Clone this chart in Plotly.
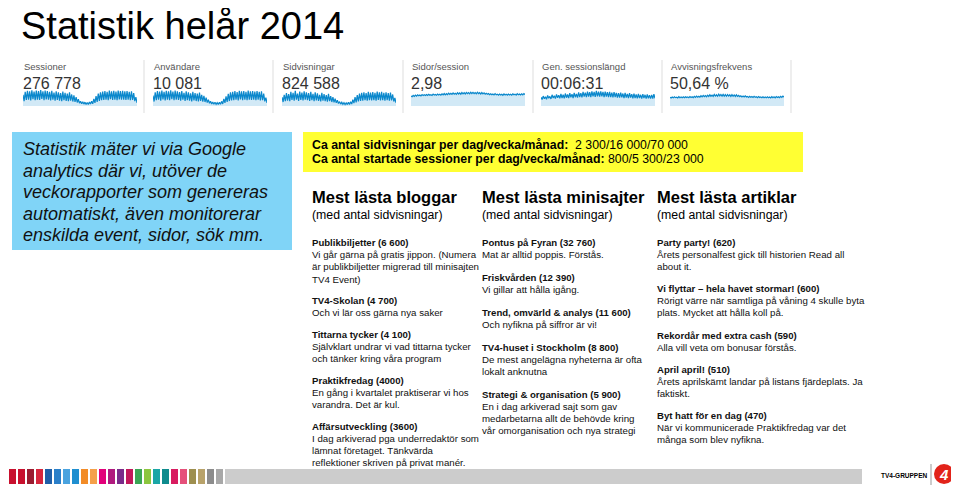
import plotly.graph_objects as go

W, H = 959, 485
PAD = 8  # sidans body-marginal; koordinaterna nedan är i fönstrets pixlar
FONT = "Arial, 'Liberation Sans', sans-serif"

# --- GA-nyckeltal (sparklines, ungefärliga veckovärden hög/låg) ---
ga_labels = ["Sessioner", "Användare", "Sidvisningar", "Sidor/session",
             "Gen. sessionslängd", "Avvisningsfrekvens"]
ga_values = ["276 778", "10 081", "824 588", "2,98", "00:06:31", "50,64 %"]

sessioner = [70, 30, 88, 38, 95, 40, 92, 35, 98, 42, 90, 36, 96, 40, 94, 38, 99, 44, 91, 37,
             97, 41, 93, 39, 88, 35, 95, 40, 84, 33, 92, 38, 86, 34, 80, 30, 90, 36, 82, 32,
             78, 30, 85, 33, 72, 28, 66, 26, 55, 22, 42, 18, 30, 14, 26, 12, 24, 10, 22, 10,
             25, 12, 30, 14, 45, 20, 62, 26, 78, 32, 86, 36, 90, 38, 94, 40, 88, 36, 96, 42,
             92, 38, 95, 40, 90, 37, 97, 41, 93, 39, 95, 40, 91, 38, 94, 40, 89, 36, 92, 38,
             80, 30, 55, 20]
anvandare = [65, 28, 85, 36, 93, 39, 90, 34, 97, 41, 89, 35, 95, 39, 92, 37, 98, 43, 90, 36,
             96, 40, 92, 38, 87, 34, 94, 39, 83, 32, 91, 37, 85, 33, 79, 29, 89, 35, 81, 31,
             77, 29, 84, 32, 70, 27, 64, 25, 52, 21, 40, 17, 29, 13, 25, 11, 23, 10, 21, 9,
             24, 11, 29, 13, 44, 19, 60, 25, 76, 31, 85, 35, 89, 37, 93, 39, 87, 35, 95, 41,
             91, 37, 94, 39, 89, 36, 96, 40, 92, 38, 94, 39, 90, 37, 93, 39, 88, 35, 91, 37,
             78, 29, 52, 19]
sidvisningar = [55, 25, 70, 30, 80, 34, 75, 30, 88, 38, 82, 34, 95, 40, 78, 32, 90, 38, 84, 35,
                92, 39, 86, 36, 80, 32, 88, 37, 76, 30, 85, 35, 79, 32, 70, 28, 82, 33, 74, 30,
                68, 27, 76, 30, 62, 25, 56, 23, 46, 20, 36, 16, 27, 12, 23, 10, 21, 9, 20, 9,
                23, 10, 27, 12, 40, 18, 55, 23, 68, 28, 78, 32, 82, 34, 86, 36, 80, 33, 88, 37,
                84, 35, 87, 36, 82, 34, 90, 38, 85, 35, 88, 36, 83, 34, 86, 36, 81, 33, 84, 35,
                72, 28, 50, 20]
sidor_session = [62, 58, 66, 60, 68, 62, 70, 64, 69, 63, 71, 65, 70, 66, 72, 66, 73, 67, 71, 66,
                 74, 68, 72, 67, 75, 69, 73, 68, 76, 70, 78, 70, 77, 71, 80, 72, 79, 73, 82, 74,
                 80, 73, 83, 75, 82, 74, 84, 76, 83, 75, 85, 77, 84, 76, 86, 78, 85, 77, 84, 76,
                 86, 77, 83, 75, 84, 76, 82, 74, 80, 73, 78, 71, 76, 70, 75, 69, 77, 70, 74, 68,
                 75, 69, 73, 67, 76, 69, 74, 68, 75, 69, 73, 68, 76, 70, 74, 68, 77, 70, 75, 69,
                 76, 70, 78, 71]
sessionslangd = [55, 40, 62, 45, 58, 42, 66, 48, 60, 44, 70, 50, 64, 46, 72, 52, 68, 48, 75, 50,
                 70, 48, 78, 52, 72, 50, 80, 54, 74, 50, 82, 55, 76, 52, 85, 56, 80, 54, 88, 58,
                 84, 56, 90, 58, 86, 55, 92, 60, 88, 57, 94, 60, 90, 58, 92, 60, 88, 56, 90, 58,
                 86, 55, 88, 56, 84, 54, 86, 55, 82, 52, 80, 52, 84, 54, 78, 50, 82, 52, 76, 50,
                 80, 52, 74, 48, 78, 50, 72, 48, 76, 50, 70, 47, 74, 49, 70, 46, 72, 48, 68, 46,
                 70, 47, 74, 48]
avvisning = [55, 50, 56, 51, 57, 52, 55, 50, 58, 52, 56, 51, 57, 52, 58, 53, 57, 52, 59, 53,
             58, 52, 60, 54, 62, 55, 61, 55, 64, 57, 66, 58, 65, 58, 68, 60, 70, 61, 68, 60,
             72, 62, 70, 61, 74, 63, 72, 62, 73, 62, 71, 61, 72, 62, 70, 60, 71, 61, 69, 60,
             70, 60, 66, 58, 64, 57, 62, 56, 63, 56, 60, 54, 61, 55, 59, 53, 60, 54, 58, 52,
             59, 53, 57, 52, 58, 52, 56, 51, 57, 52, 56, 50, 58, 52, 57, 51, 59, 53, 58, 52,
             60, 54, 62, 55]
sparks = [sessioner, anvandare, sidvisningar, sidor_session, sessionslangd, avvisning]

# --- texter ---
title = "Statistik helår 2014"
intro_lines = ["Statistik mäter vi via Google", "analytics där vi, utöver de",
               "veckorapporter som genereras", "automatiskt, även monitorerar",
               "enskilda event, sidor, sök mm."]
summary_lines = [
    "<b>Ca antal sidvisningar per dag/vecka/månad:</b>  2 300/16 000/70 000",
    "<b>Ca antal startade sessioner per dag/vecka/månad:</b> 800/5 300/23 000",
]

bloggar = [
    ("Publikbiljetter (6 600)", ["Vi går gärna på gratis jippon. (Numera",
                                 "är publikbiljetter migrerad till minisajten", "TV4 Event)"]),
    ("TV4-Skolan (4 700)", ["Och vi lär oss gärna nya saker"]),
    ("Tittarna tycker (4 100)", ["Självklart undrar vi vad tittarna tycker",
                                 "och tänker kring våra program"]),
    ("Praktikfredag (4000)", ["En gång i kvartalet praktiserar vi hos", "varandra. Det är kul."]),
    ("Affärsutveckling (3600)", ["I dag arkiverad pga underredaktör som",
                                 "lämnat företaget. Tänkvärda",
                                 "reflektioner skriven på privat manér."]),
]
minisajter = [
    ("Pontus på Fyran (32 760)", ["Mat är alltid poppis. Förstås."]),
    ("Friskvården (12 390)", ["Vi gillar att hålla igång."]),
    ("Trend, omvärld & analys (11 600)", ["Och nyfikna på siffror är vi!"]),
    ("TV4-huset i Stockholm (8 800)", ["De mest angelägna nyheterna är ofta", "lokalt anknutna"]),
    ("Strategi & organisation (5 900)", ["En i dag arkiverad sajt som gav",
                                         "medarbetarna allt de behövde kring",
                                         "vår omorganisation och nya strategi"]),
]
artiklar = [
    ("Party party! (620)", ["Årets personalfest gick till historien Read all", "about it."]),
    ("Vi flyttar – hela havet stormar! (600)", ["Rörigt värre när samtliga på våning 4 skulle byta",
                                               "plats. Mycket att hålla koll på."]),
    ("Rekordår med extra cash (590)", ["Alla vill veta om bonusar förstås."]),
    ("April april! (510)", ["Årets aprilskämt landar på listans fjärdeplats. Ja", "faktiskt."]),
    ("Byt hatt för en dag (470)", ["När vi kommunicerade Praktikfredag var det",
                                   "många som blev nyfikna."]),
]
columns = [("Mest lästa bloggar", bloggar), ("Mest lästa minisajter", minisajter),
           ("Mest lästa artiklar", artiklar)]

stripe_colors = ["#c8102e", "#c8102e", "#c8102e", "#9b1b30", "#d7263d", "#1f5fa8", "#2a7fc9",
                 "#4aa3df", "#1f8fd0", "#f28c28", "#f5a04a", "#e2007a", "#b0197e", "#7a2b8a",
                 "#c2185b", "#3aa655", "#8cc63f", "#1aa6a6", "#0f8b8d", "#d81b60", "#e5507a",
                 "#9e8f4f", "#b8a26a", "#8c8c8c", "#a8a8a8"]

fig = go.Figure()
shapes, annotations = [], []
FW, FH = W - PAD, H - PAD


def ann(x, y, text, size, color="#111", **kw):
    annotations.append(dict(x=x, y=y, xref="x", yref="y", text=text, showarrow=False,
                            xanchor=kw.pop("xanchor", "left"), yanchor="middle",
                            font=dict(family=FONT, size=size, color=color), **kw))


# rubrik (sänkt något så att den inte klipps vid sidans överkant)
ann(19, 25.5, title, 38, "#000")

# GA-panel
spark_x0 = [23, 153, 282, 411, 541, 670]
sep_x = [144, 273, 403, 533, 662, 791]
for i, (lab, val, data) in enumerate(zip(ga_labels, ga_values, sparks)):
    x0 = spark_x0[i]
    ann(x0 - 1, 66, lab, 9.5, "#555")
    ann(x0 - 2, 83, val, 16, "#333")
    ax = i + 2
    fig.add_trace(go.Scatter(
        x=list(range(len(data))), y=data, mode="lines",
        line=dict(color="#0b88cc", width=1.2), fill="tozeroy", fillcolor="#d2e9f6",
        xaxis=f"x{ax}", yaxis=f"y{ax}", hoverinfo="skip", showlegend=False,
    ))
    fig.layout[f"xaxis{ax}"] = dict(domain=[(x0 - PAD) / FW, (x0 + 114 - PAD) / FW],
                                   visible=False, range=[0, len(data) - 1], anchor=f"y{ax}")
    fig.layout[f"yaxis{ax}"] = dict(domain=[1 - (106 - PAD) / FH, 1 - (90 - PAD) / FH],
                                   visible=False, range=[0, 100], anchor=f"x{ax}")
    shapes.append(dict(type="line", xref="x", yref="y", x0=sep_x[i], x1=sep_x[i], y0=60, y1=113,
                       line=dict(color="#dddddd", width=1)))

# blå ruta
shapes.append(dict(type="rect", xref="x", yref="y", x0=12, x1=292, y0=132, y1=250,
                   fillcolor="#80d4f7", line_width=0, layer="below"))
for k, line in enumerate(intro_lines):
    ann(21, 149 + k * 21.6, f"<i>{line}</i>", 18, "#111")

# gul ruta
shapes.append(dict(type="rect", xref="x", yref="y", x0=303, x1=803, y0=132, y1=172,
                   fillcolor="#ffff33", line_width=0, layer="below"))
for k, line in enumerate(summary_lines):
    ann(310, 145 + k * 14, line, 12.3, "#000")

# kolumner
col_x = [310, 480, 655]
col_step = [(12.2, 21.5), (12.1, 22.8), (11.9, 22.5)]
for (head, items), cx, (step, gap) in zip(columns, col_x, col_step):
    ann(cx, 197, f"<b>{head}</b>", 16.5, "#000")
    ann(cx, 215, "(med antal sidvisningar)", 12.3, "#000")
    y = 242.5
    for t, lines in items:
        ann(cx, y, f"<b>{t}</b>", 9.6, "#111")
        for ln in lines:
            y += step
            ann(cx, y, ln, 9.7, "#111")
        y += gap

# sidfot
x = 0
for c in stripe_colors:
    shapes.append(dict(type="rect", xref="x", yref="y", x0=x, x1=x + 7, y0=469, y1=484,
                       fillcolor=c, line_width=0))
    x += 9
shapes.append(dict(type="rect", xref="x", yref="y", x0=x, x1=862, y0=469, y1=484,
                   fillcolor="#cccccc", line_width=0))
ann(904, 475, "<b>TV4-GRUPPEN</b>", 6.5, "#000", xanchor="center")
shapes.append(dict(type="line", xref="x", yref="y", x0=931, x1=931, y0=464, y1=485,
                   line=dict(color="#999", width=1)))
shapes.append(dict(type="circle", xref="x", yref="y", x0=934, x1=954, y0=464, y1=484,
                   fillcolor="#e2231a", line_width=0))
ann(944, 474.5, "<b><i>4</i></b>", 15, "#fff", xanchor="center")

fig.update_layout(
    width=FW, height=FH, margin=dict(l=0, r=0, t=0, b=0),
    paper_bgcolor="white", plot_bgcolor="white",
    xaxis=dict(range=[PAD, W], visible=False, domain=[0, 1]),
    yaxis=dict(range=[H, PAD], visible=False, domain=[0, 1]),
    shapes=shapes, annotations=annotations, showlegend=False,
)
fig.write_html("out.html")
